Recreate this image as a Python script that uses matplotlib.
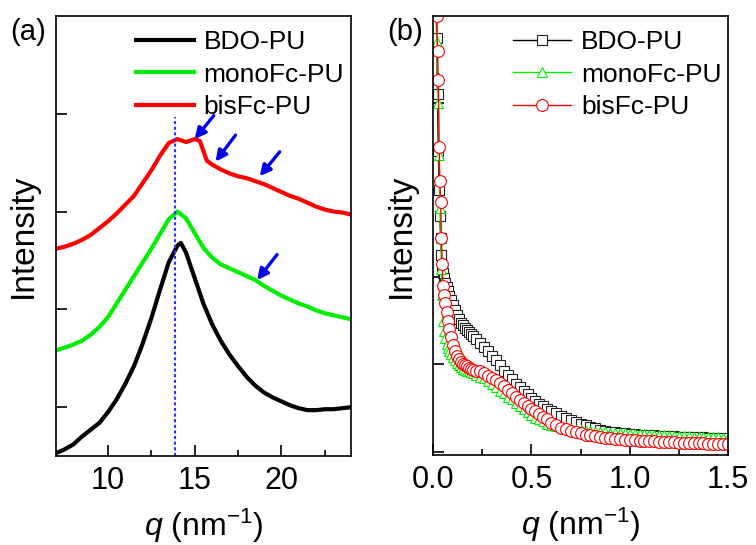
import numpy as np
import matplotlib
matplotlib.use("Agg")
import matplotlib.pyplot as plt

plt.rcParams['font.family'] = ['Liberation Sans', 'DejaVu Sans']
plt.rcParams['mathtext.fontset'] = 'custom'
plt.rcParams['mathtext.rm'] = 'Liberation Sans'
plt.rcParams['mathtext.it'] = 'Liberation Sans:italic'

# ---------- panel (a): WAXS ----------
bdo_q = [7.0, 7.5, 8.0, 8.5, 9.0, 9.5, 10.0, 10.5, 11.0, 11.5, 12.0, 12.5, 13.0, 13.5,
         14.0, 14.2, 14.5, 15.0, 15.5, 16.0, 16.5, 17.0, 17.5, 18.0, 18.5, 19.0, 19.5,
         20.0, 20.5, 21.0, 21.5, 22.0, 22.5, 23.0, 23.5, 24.0]
bdo_i = [-0.47, -0.43, -0.38, -0.30, -0.23, -0.16, -0.05, 0.08, 0.24, 0.42, 0.65, 0.91,
         1.20, 1.48, 1.65, 1.68, 1.58, 1.32, 1.06, 0.85, 0.68, 0.54, 0.42, 0.31, 0.22,
         0.15, 0.10, 0.06, 0.02, -0.01, -0.03, -0.03, -0.02, -0.02, -0.01, 0.0]

mono_q = [7.0, 7.5, 8.0, 8.5, 9.0, 9.5, 10.0, 10.5, 11.0, 11.5, 12.0, 12.5, 13.0, 13.5,
          14.0, 14.5, 15.0, 15.5, 16.0, 16.5, 17.0, 17.5, 18.0, 18.5, 19.0, 19.5, 20.0,
          20.5, 21.0, 21.5, 22.0, 22.5, 23.0, 23.5, 24.0]
mono_i = [0.58, 0.61, 0.64, 0.68, 0.74, 0.82, 0.92, 1.06, 1.20, 1.34, 1.48, 1.62, 1.77,
          1.92, 2.00, 1.93, 1.78, 1.63, 1.53, 1.46, 1.42, 1.38, 1.34, 1.30, 1.24, 1.19,
          1.14, 1.10, 1.06, 1.03, 0.99, 0.96, 0.94, 0.92, 0.90]

bis_q = [7.0, 7.5, 8.0, 8.5, 9.0, 9.5, 10.0, 10.5, 11.0, 11.5, 12.0, 12.5, 13.0, 13.5,
         14.0, 14.5, 15.0, 15.3, 15.7, 16.0, 16.5, 17.0, 17.5, 18.0, 18.5, 19.0, 19.5,
         20.0, 20.5, 21.0, 21.5, 22.0, 22.5, 23.0, 23.5, 24.0]
bis_i = [1.62, 1.64, 1.67, 1.71, 1.76, 1.83, 1.90, 1.98, 2.07, 2.16, 2.29, 2.42, 2.57,
         2.70, 2.74, 2.71, 2.74, 2.72, 2.52, 2.48, 2.43, 2.39, 2.36, 2.34, 2.31, 2.28,
         2.24, 2.20, 2.16, 2.13, 2.09, 2.05, 2.02, 2.00, 1.99, 1.97]

peak_q = 13.85
peak_line_top = 2.97
# arrows: (tail x, tail y) -> (head x, head y)
arrow_tails = [(16.1, 2.98), (17.35, 2.78), (19.9, 2.61), (19.75, 1.56)]
arrow_heads = [(15.0, 2.74), (16.2, 2.51), (18.75, 2.36), (18.6, 1.30)]

# ---------- panel (b): SAXS ----------
saxs_q = [0.010, 0.014, 0.018, 0.022, 0.026, 0.030, 0.034, 0.038, 0.042, 0.046, 0.050,
          0.056, 0.062, 0.068, 0.075, 0.082, 0.09, 0.10, 0.11, 0.12, 0.13, 0.14, 0.15,
          0.16, 0.17, 0.18, 0.19, 0.20,
          0.22, 0.24, 0.26, 0.28, 0.30, 0.32, 0.34, 0.36, 0.38, 0.40, 0.42, 0.44, 0.46,
          0.48, 0.50, 0.52, 0.54, 0.56, 0.58, 0.60,
          0.625, 0.65, 0.675, 0.70, 0.725, 0.75, 0.775, 0.80, 0.825, 0.85, 0.875, 0.90,
          0.925, 0.95, 0.975, 1.0, 1.025, 1.05, 1.075, 1.1, 1.125, 1.15, 1.175, 1.2,
          1.225, 1.25, 1.275, 1.3, 1.325, 1.35, 1.375, 1.4, 1.425, 1.45, 1.475, 1.5]
saxs_bdo = [6.0, 5.3, 4.75, 4.1, 3.45, 3.0, 2.7, 2.45, 2.25, 2.12, 2.05,
            1.99, 1.94, 1.89, 1.84, 1.79, 1.74, 1.68, 1.62, 1.57, 1.52, 1.48, 1.45,
            1.42, 1.40, 1.37, 1.35, 1.33,
            1.29, 1.25, 1.20, 1.15, 1.10, 1.05, 0.99, 0.93, 0.88, 0.83, 0.78, 0.74, 0.70,
            0.66, 0.62, 0.58, 0.55, 0.52, 0.49, 0.47,
            0.44, 0.41, 0.38, 0.36, 0.34, 0.32, 0.30, 0.28, 0.265, 0.25, 0.24, 0.23,
            0.22, 0.215, 0.21, 0.205, 0.20, 0.195, 0.19, 0.188, 0.185, 0.182, 0.18, 0.177,
            0.175, 0.172, 0.17, 0.168, 0.166, 0.164, 0.162, 0.16, 0.158, 0.156, 0.154, 0.152]
saxs_mono = [6.0, 5.3, 4.7, 4.3, 4.0, 3.4, 2.8, 2.45, 2.1, 1.8, 1.5,
             1.38, 1.30, 1.24, 1.19, 1.15, 1.12, 1.08, 1.05, 1.02, 0.99, 0.97, 0.95,
             0.94, 0.93, 0.92, 0.91, 0.90,
             0.88, 0.86, 0.84, 0.81, 0.78, 0.74, 0.70, 0.67, 0.63, 0.60, 0.56, 0.52, 0.49,
             0.45, 0.42, 0.39, 0.37, 0.35, 0.32, 0.30,
             0.29, 0.28, 0.27, 0.26, 0.25, 0.245, 0.24, 0.235, 0.23, 0.225, 0.222, 0.219,
             0.216, 0.213, 0.21, 0.207, 0.204, 0.201, 0.198, 0.195, 0.192, 0.189, 0.186, 0.183,
             0.18, 0.178, 0.176, 0.174, 0.172, 0.17, 0.168, 0.166, 0.164, 0.162, 0.16, 0.158]
saxs_bis = [6.0, 5.4, 5.0, 4.6, 4.26, 3.5, 3.1, 2.86, 2.45, 2.15, 1.9,
            1.8, 1.7, 1.6, 1.5, 1.41, 1.32, 1.22, 1.15, 1.10, 1.06, 1.03, 1.01,
            0.99, 0.98, 0.96, 0.95, 0.94,
            0.93, 0.92, 0.90, 0.87, 0.85, 0.82, 0.79, 0.75, 0.71, 0.67, 0.63, 0.59, 0.56,
            0.52, 0.49, 0.46, 0.43, 0.40, 0.37, 0.33,
            0.30, 0.27, 0.255, 0.24, 0.225, 0.21, 0.195, 0.185, 0.175, 0.165, 0.158, 0.152,
            0.146, 0.141, 0.136, 0.132, 0.128, 0.125, 0.122, 0.119, 0.116, 0.113, 0.111, 0.108,
            0.106, 0.104, 0.102, 0.10, 0.098, 0.096, 0.094, 0.092, 0.09, 0.088, 0.086, 0.084]

labels = ['BDO-PU', 'monoFc-PU', 'bisFc-PU']
green = '#00ee00'
red = '#ff0000'

fig = plt.figure(figsize=(7.56, 5.45), dpi=100)
ax1 = fig.add_axes([0.074, 0.163, 0.390, 0.808])
ax2 = fig.add_axes([0.573, 0.165, 0.390, 0.806])

# panel (a)
ax1.plot(bdo_q, bdo_i, color='black', lw=3, label=labels[0])
ax1.plot(mono_q, mono_i, color=green, lw=3, label=labels[1])
ax1.plot(bis_q, bis_i, color=red, lw=3, label=labels[2])
ax1.vlines(peak_q, -0.5, peak_line_top, colors='#3333ff', linestyles=(0, (1.5, 1.2)), lw=1.5)
for (tx, ty), (hx, hy) in zip(arrow_tails, arrow_heads):
    ax1.annotate('', xy=(hx, hy), xytext=(tx, ty),
                 arrowprops=dict(arrowstyle='-|>', color='#0000ee', lw=2.4,
                                 mutation_scale=16, shrinkA=0, shrinkB=0))
ax1.set_xlim(7, 24)
ax1.set_ylim(-0.5, 4.0)
ax1.set_xticks([10, 15, 20])
ax1.set_xticks([12.5, 17.5, 22.5], minor=True)
ax1.set_yticks([0, 1, 2, 3])
ax1.set_yticklabels([])

# panel (b)
ax2.plot(saxs_q, saxs_bdo, color='black', lw=1, marker='s', ms=6.5, mfc='white',
         mec='#222222', mew=0.8, label=labels[0])
ax2.plot(saxs_q, saxs_mono, color=green, lw=1, marker='^', ms=7.5, mfc='white',
         mec=green, mew=0.8, label=labels[1])
ax2.plot(saxs_q, saxs_bis, color=red, lw=1, marker='o', ms=8.5, mfc='white',
         mec=red, mew=0.8, label=labels[2])
ax2.set_xlim(0, 1.5)
ax2.set_ylim(-0.04, 5.0)
ax2.set_xticks([0.0, 0.5, 1.0, 1.5])
ax2.set_xticklabels(['0.0', '0.5', '1.0', '1.5'])
ax2.set_xticks([0.25, 0.75, 1.25], minor=True)
ax2.set_yticks([0, 1, 2, 3, 4])
ax2.set_yticklabels([])

for ax in (ax1, ax2):
    for sp in ax.spines.values():
        sp.set_linewidth(1.2)
    ax.tick_params(which='major', direction='in', length=8, width=1.2, labelsize=22, pad=7)
    ax.tick_params(which='minor', direction='in', length=4, width=1.2)
    ax.set_xlabel(r'$q$ (nm$^{-1}$)', fontsize=23)
    ax.xaxis.set_label_coords(0.5, -0.115)
    ax.set_ylabel('Intensity', fontsize=24, labelpad=5)
    ax.legend(loc='upper left', bbox_to_anchor=(0.27, 0.968), frameon=False, fontsize=19,
              handlelength=2.2, handletextpad=0.38, labelspacing=0.33, borderpad=0,
              borderaxespad=0, numpoints=1)

fig.text(0.013, 0.941, '(a)', fontsize=21, va='center', ha='left')
fig.text(0.512, 0.941, '(b)', fontsize=21, va='center', ha='left')

fig.savefig('out.png', dpi=100)
